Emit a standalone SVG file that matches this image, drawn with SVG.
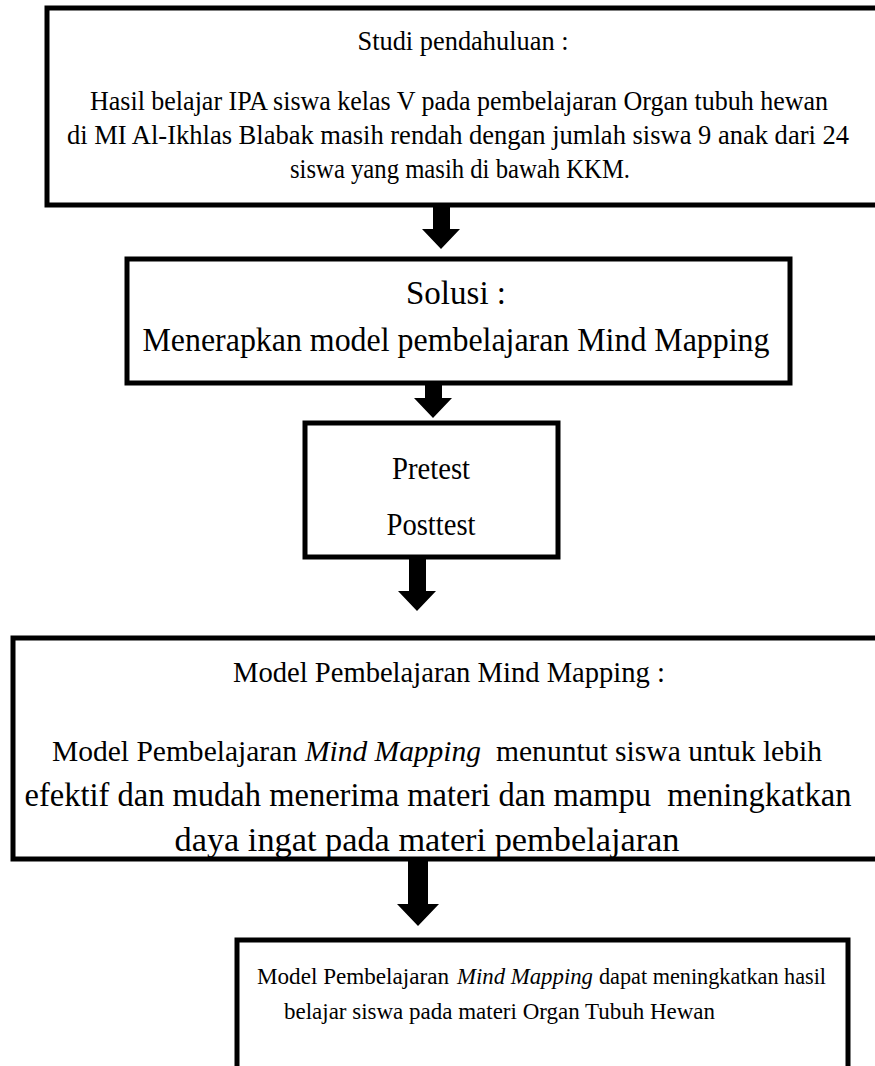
<svg xmlns="http://www.w3.org/2000/svg" width="875" height="1066" viewBox="0 0 875 1066">
<style>
.box{fill:#fff;stroke:#000;stroke-width:5}
text{font-family:"Liberation Serif","Times New Roman",serif;fill:#000}
.c{text-anchor:middle}
.it{font-style:italic}
.arr{fill:#000}
</style>
<rect width="875" height="1066" fill="#fff"/>
<g id="n1">
<rect class="box" x="47" y="8" width="840" height="197"/>
<text class="c" x="463" y="50" font-size="27" textLength="211" lengthAdjust="spacingAndGlyphs">Studi pendahuluan :</text>
<text class="c" x="459" y="110" font-size="27" textLength="738" lengthAdjust="spacingAndGlyphs">Hasil belajar IPA siswa kelas V pada pembelajaran Organ tubuh hewan</text>
<text class="c" x="458" y="144" font-size="27" textLength="782" lengthAdjust="spacingAndGlyphs">di MI Al-Ikhlas Blabak masih rendah dengan jumlah siswa 9 anak dari 24</text>
<text class="c" x="460" y="178" font-size="27" textLength="340" lengthAdjust="spacingAndGlyphs">siswa yang masih di bawah KKM.</text>
</g>
<g id="n2">
<rect class="box" x="127" y="259" width="663" height="124"/>
<text class="c" x="456" y="304" font-size="33" textLength="100" lengthAdjust="spacingAndGlyphs">Solusi :</text>
<text class="c" x="456" y="351" font-size="33" textLength="627" lengthAdjust="spacingAndGlyphs">Menerapkan model pembelajaran Mind Mapping</text>
</g>
<g id="n3">
<rect class="box" x="305" y="423" width="253" height="134"/>
<text class="c" x="431" y="479" font-size="31" textLength="78" lengthAdjust="spacingAndGlyphs">Pretest</text>
<text class="c" x="431" y="535" font-size="31" textLength="89" lengthAdjust="spacingAndGlyphs">Posttest</text>
</g>
<g id="n4">
<rect class="box" x="13" y="638" width="880" height="221"/>
<text class="c" x="449" y="682" font-size="30" textLength="432" lengthAdjust="spacingAndGlyphs">Model Pembelajaran Mind Mapping :</text>
<text x="52" y="761" font-size="30" textLength="245" lengthAdjust="spacingAndGlyphs">Model Pembelajaran</text>
<text class="it" x="305" y="761" font-size="30" textLength="176" lengthAdjust="spacingAndGlyphs">Mind Mapping</text>
<text x="496" y="761" font-size="30" textLength="326" lengthAdjust="spacingAndGlyphs">menuntut siswa untuk lebih</text>
<text class="c" x="438" y="806" font-size="33" textLength="827" lengthAdjust="spacingAndGlyphs" xml:space="preserve">efektif dan mudah menerima materi dan mampu  meningkatkan</text>
<text class="c" x="427" y="851" font-size="33" textLength="505" lengthAdjust="spacingAndGlyphs">daya ingat pada materi pembelajaran</text>
</g>
<g id="n5">
<rect class="box" x="237" y="940" width="611" height="160"/>
<text x="257" y="984" font-size="24" textLength="192" lengthAdjust="spacingAndGlyphs">Model Pembelajaran</text>
<text class="it" x="457" y="984" font-size="24" textLength="136" lengthAdjust="spacingAndGlyphs">Mind Mapping</text>
<text x="599" y="984" font-size="24" textLength="227" lengthAdjust="spacingAndGlyphs">dapat meningkatkan hasil</text>
<text x="284" y="1019" font-size="24" textLength="431" lengthAdjust="spacingAndGlyphs">belajar siswa pada materi Organ Tubuh Hewan</text>
</g>
<g id="connectors">
<polygon class="arr" points="433,207 450,207 450,229 460,229 441,249 422,229 433,229"/>
<polygon class="arr" points="425,385 442,385 442,398 452,398 433,418 414,398 425,398"/>
<polygon class="arr" points="409,559 426,559 426,591 436,591 417,611 398,591 409,591"/>
<polygon class="arr" points="408,861 428,861 428,904 439,904 418,926 397,904 408,904"/>
</g>
</svg>
